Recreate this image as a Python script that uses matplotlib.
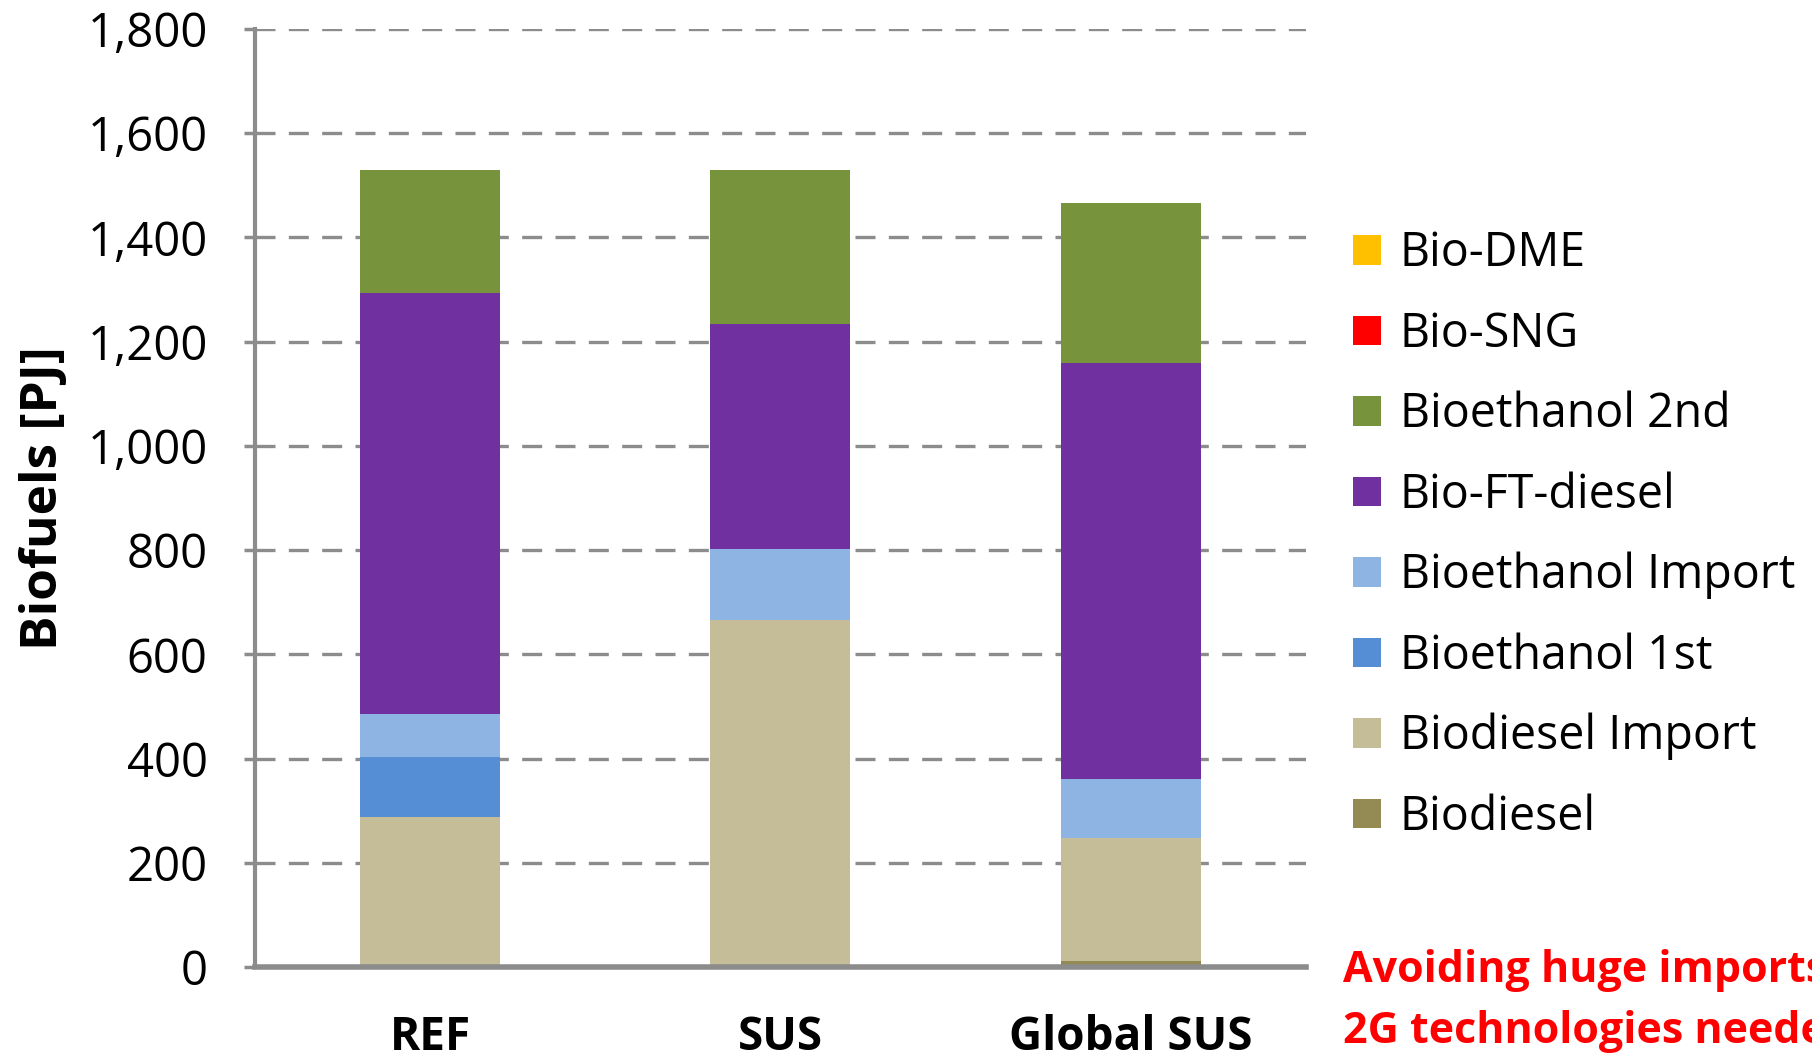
import matplotlib.pyplot as plt
from matplotlib.patches import Patch
import numpy as np

plt.rcParams['font.family'] = ['Open Sans', 'DejaVu Sans']

scenarios = ['REF', 'SUS', 'Global SUS']

# stacked from the bottom up (PJ)
series = ['Biodiesel', 'Biodiesel Import', 'Bioethanol 1st', 'Bioethanol Import',
          'Bio-FT-diesel', 'Bioethanol 2nd', 'Bio-SNG', 'Bio-DME']
biodiesel = [0, 0, 11]
biodiesel_import = [287, 665, 237]
bioethanol_1st = [116, 0, 0]
bioethanol_import = [82, 137, 112]
bio_ft_diesel = [808, 431, 800]
bioethanol_2nd = [237, 297, 306]
bio_sng = [0, 0, 0]
bio_dme = [0, 0, 0]
values = [biodiesel, biodiesel_import, bioethanol_1st, bioethanol_import,
          bio_ft_diesel, bioethanol_2nd, bio_sng, bio_dme]
colors = ['#948A54', '#C4BD97', '#558ED5', '#8EB4E3',
          '#7030A0', '#77933C', '#FF0000', '#FFC000']

yticks = np.arange(0, 1801, 200)

fig = plt.figure(figsize=(18.12, 10.58), dpi=100)
ax = fig.add_axes([0.1407, 0.086, 0.580, 0.8866])

x = np.arange(len(scenarios))
bottom = np.zeros(len(scenarios))
for name, vals, c in zip(series, values, colors):
    ax.bar(x, vals, 0.4, bottom=bottom, color=c, edgecolor='none', zorder=3)
    bottom += np.array(vals)

ax.set_xlim(-0.5, 2.5)
ax.set_ylim(0, 1800)
ax.set_yticks(yticks)
ax.set_yticklabels([f'{v:,}' for v in yticks], fontsize=34)
ax.set_xticks(x)
ax.set_xticklabels(scenarios, fontsize=33, fontweight='bold')
ax.tick_params(axis='y', length=8, width=2.5, color='#8c8c8c', pad=26)
ax.tick_params(axis='x', length=0, pad=34)
ax.set_ylabel('Biofuels [PJ]', fontsize=37, fontweight='bold', labelpad=13)

ax.yaxis.grid(True, linestyle=(0, (6, 4)), color='#8c8c8c', linewidth=2.4, zorder=1)
for s in ['top', 'right']:
    ax.spines[s].set_visible(False)
ax.spines['left'].set_color('#8c8c8c')
ax.spines['left'].set_linewidth(3)
ax.spines['bottom'].set_color('#8c8c8c')
ax.spines['bottom'].set_linewidth(4)
ax.spines['bottom'].set_zorder(4)

# legend lists the top of the stack first
handles = [Patch(facecolor=c, edgecolor='none', label=n)
           for n, c in zip(series, colors)][::-1]
fig.legend(handles=handles, loc='center left', bbox_to_anchor=(0.7365, 0.494),
           frameon=False, fontsize=33.5, handlelength=0.6, handleheight=0.6,
           handletextpad=0.4, labelspacing=0.71, borderaxespad=0)

fig.text(0.741, 0.083, 'Avoiding huge imports,', color='#FF0000',
         fontsize=31, fontweight='bold', va='center')
fig.text(0.741, 0.025, '2G technologies needed', color='#FF0000',
         fontsize=31, fontweight='bold', va='center')

fig.savefig('out.png', dpi=100)
